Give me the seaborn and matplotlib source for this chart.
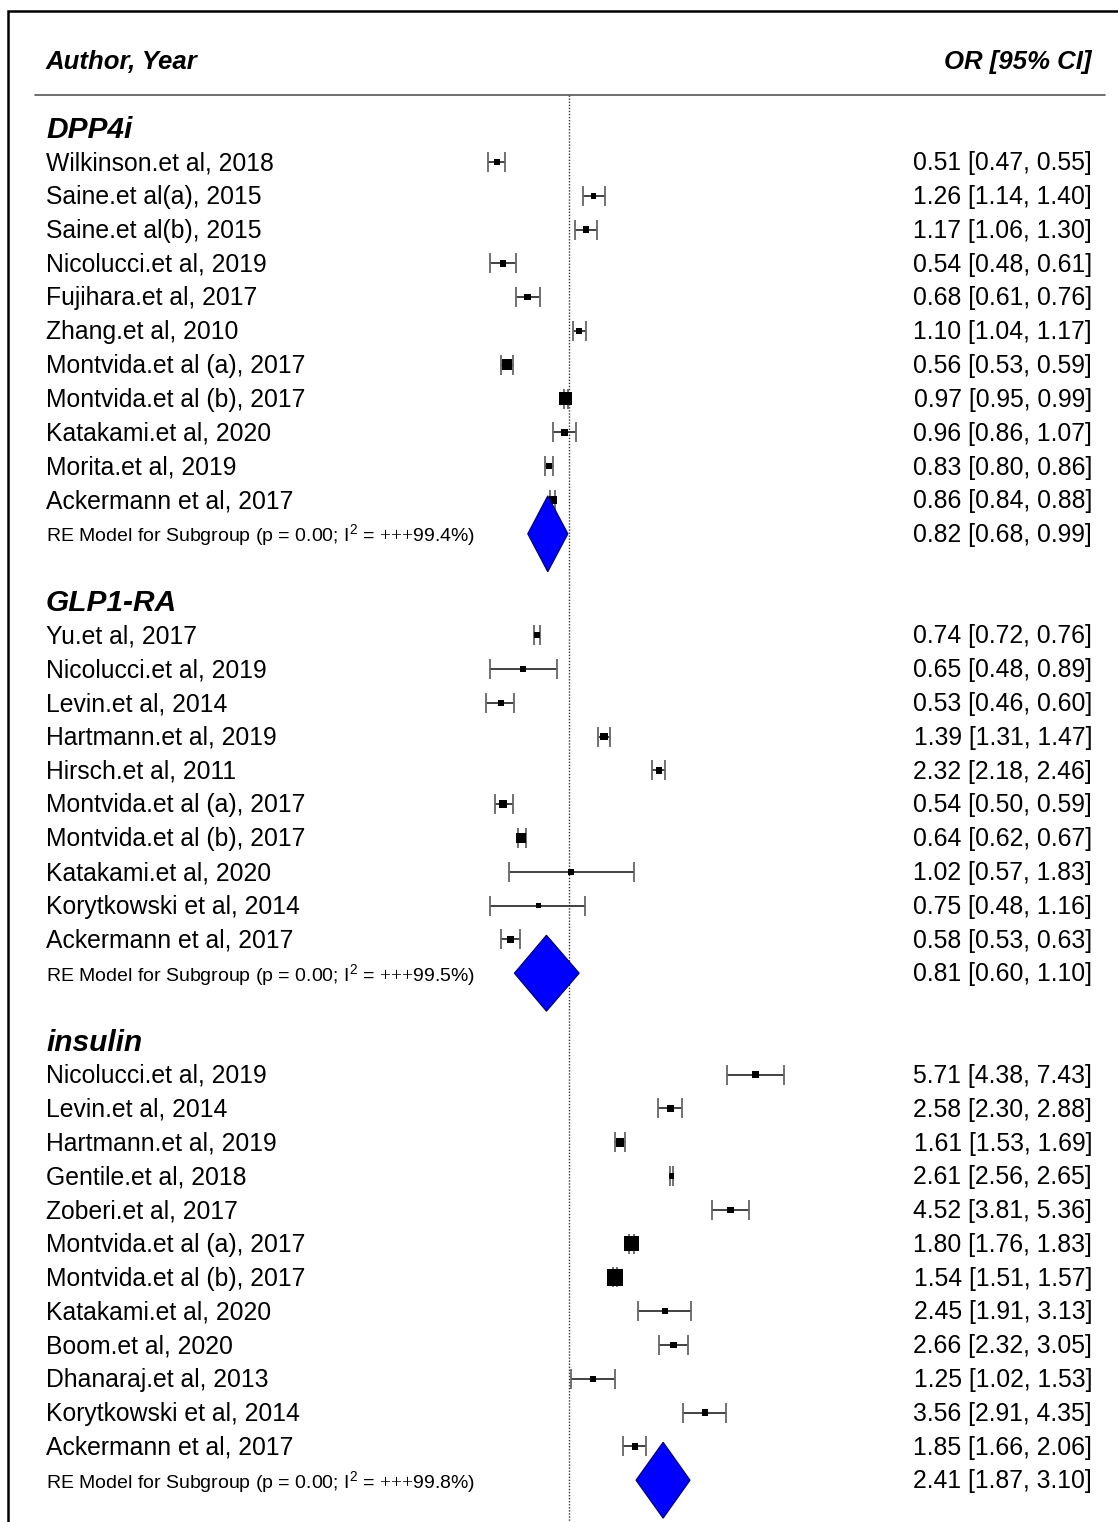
import numpy as np
import pandas as pd
import seaborn as sns
import matplotlib.pyplot as plt
from matplotlib.patches import Rectangle
from matplotlib.transforms import blended_transform_factory

# ---- data ----
groups = ["DPP4i", "GLP1-RA", "insulin"]

dpp_labels = ["Wilkinson.et al, 2018", "Saine.et al(a), 2015", "Saine.et al(b), 2015",
              "Nicolucci.et al, 2019", "Fujihara.et al, 2017", "Zhang.et al, 2010",
              "Montvida.et al (a), 2017", "Montvida.et al (b), 2017", "Katakami.et al, 2020",
              "Morita.et al, 2019", "Ackermann et al, 2017"]
dpp_or = [0.51, 1.26, 1.17, 0.54, 0.68, 1.10, 0.56, 0.97, 0.96, 0.83, 0.86]
dpp_lo = [0.47, 1.14, 1.06, 0.48, 0.61, 1.04, 0.53, 0.95, 0.86, 0.80, 0.84]
dpp_hi = [0.55, 1.40, 1.30, 0.61, 0.76, 1.17, 0.59, 0.99, 1.07, 0.86, 0.88]
dpp_wt = [6, 5, 6, 6, 6, 6, 10, 12, 6, 6, 8]

glp_labels = ["Yu.et al, 2017", "Nicolucci.et al, 2019", "Levin.et al, 2014",
              "Hartmann.et al, 2019", "Hirsch.et al, 2011", "Montvida.et al (a), 2017",
              "Montvida.et al (b), 2017", "Katakami.et al, 2020", "Korytkowski et al, 2014",
              "Ackermann et al, 2017"]
glp_or = [0.74, 0.65, 0.53, 1.39, 2.32, 0.54, 0.64, 1.02, 0.75, 0.58]
glp_lo = [0.72, 0.48, 0.46, 1.31, 2.18, 0.50, 0.62, 0.57, 0.48, 0.53]
glp_hi = [0.76, 0.89, 0.60, 1.47, 2.46, 0.59, 0.67, 1.83, 1.16, 0.63]
glp_wt = [6, 5, 6, 7, 6, 7, 9, 5, 5, 6]

ins_labels = ["Nicolucci.et al, 2019", "Levin.et al, 2014", "Hartmann.et al, 2019",
              "Gentile.et al, 2018", "Zoberi.et al, 2017", "Montvida.et al (a), 2017",
              "Montvida.et al (b), 2017", "Katakami.et al, 2020", "Boom.et al, 2020",
              "Dhanaraj.et al, 2013", "Korytkowski et al, 2014", "Ackermann et al, 2017"]
ins_or = [5.71, 2.58, 1.61, 2.61, 4.52, 1.80, 1.54, 2.45, 2.66, 1.25, 3.56, 1.85]
ins_lo = [4.38, 2.30, 1.53, 2.56, 3.81, 1.76, 1.51, 1.91, 2.32, 1.02, 2.91, 1.66]
ins_hi = [7.43, 2.88, 1.69, 2.65, 5.36, 1.83, 1.57, 3.13, 3.05, 1.53, 4.35, 2.06]
ins_wt = [6, 7, 8, 5, 6, 14, 15, 6, 6, 6, 6, 6]

re_or = [0.82, 0.81, 2.41]
re_lo = [0.68, 0.60, 1.87]
re_hi = [0.99, 1.10, 3.10]
re_i2 = ["99.4", "99.5", "99.8"]

# ---- build long table with row positions ----
study_sets = [(dpp_labels, dpp_or, dpp_lo, dpp_hi, dpp_wt),
              (glp_labels, glp_or, glp_lo, glp_hi, glp_wt),
              (ins_labels, ins_or, ins_lo, ins_hi, ins_wt)]
rows = []
head_rows = []
re_rows = []
r = 0
for g, (lab, o, lo, hi, wt) in zip(groups, study_sets):
    head_rows.append(r - 1)
    for i in range(len(lab)):
        rows.append(dict(group=g, label=lab[i], OR=o[i], lo=lo[i], hi=hi[i], wt=wt[i], row=r))
        r += 1
    re_rows.append(r)
    r += 3
df = pd.DataFrame(rows)

sns.set_style("white")
plt.rcParams["font.family"] = ["Liberation Sans", "DejaVu Sans"]
plt.rcParams["text.color"] = "black"
plt.rcParams["mathtext.fontset"] = "custom"
plt.rcParams["mathtext.rm"] = "Liberation Serif"
plt.rcParams["mathtext.sf"] = "Liberation Sans"

W, H = 1118, 1522
x0, k = 569, 107.0       # pixel of OR=1, pixels per ln unit
y0, dy = 162, 33.8       # pixel of first study row, pixels per row

fig = plt.figure(figsize=(W / 100, H / 100), dpi=100)
ax = fig.add_axes([0, 0, 1, 1])
ax.set_xscale("log")
ax.set_xlim(np.exp(-x0 / k), np.exp((W - x0) / k))
ax.set_ylim((H - y0) / dy, -y0 / dy)
ax.axis("off")
bt = blended_transform_factory(ax.transAxes, ax.transData)

# reference line and header rule
ax.vlines(1, -1.98, 45, colors="#333333", linestyles=(0, (1, 1.2)), lw=1.0)
ax.plot([35 / W, 1105 / W], [-1.98, -1.98], color="#555555", lw=1.2, transform=bt)

# CI whiskers
ax.hlines(df["row"], df["lo"], df["hi"], colors="#333333", lw=1.3)
cap = 10 / dy
ax.vlines(df["lo"], df["row"] - cap, df["row"] + cap, colors="#666666", lw=1.3)
ax.vlines(df["hi"], df["row"] - cap, df["row"] + cap, colors="#666666", lw=1.3)

# weighted squares
sizes = {v: (v * 0.78) ** 2 for v in df["wt"].unique()}
sns.scatterplot(data=df, x="OR", y="row", size="wt", sizes=sizes, marker="s",
                color="black", edgecolor="black", linewidth=0, legend=False, ax=ax, zorder=3)

# summary diamonds
hh = 38 / dy
for i in range(3):
    yy = re_rows[i]
    ax.fill([re_lo[i], re_or[i], re_hi[i], re_or[i]], [yy, yy - hh, yy, yy + hh],
            facecolor="#0000FF", edgecolor="#000066", lw=0.8, zorder=4)

# text columns
fs = 17.8
xl, xr = 46 / W, 1092 / W
va = "center_baseline"
up = -1.2 / dy
ax.text(xl, -3 + up, "Author, Year", transform=bt, fontsize=18.5, fontweight="bold",
        fontstyle="italic", va=va, ha="left")
ax.text(xr, -3 + up, "OR [95% CI]", transform=bt, fontsize=18.5, fontweight="bold",
        fontstyle="italic", va=va, ha="right")
for g, hr in zip(groups, head_rows):
    ax.text(xl, hr + up, g, transform=bt, fontsize=21.5, fontweight="bold",
            fontstyle="italic", va=va, ha="left")
for _, d in df.iterrows():
    ax.text(xl, d["row"] + up, d["label"], transform=bt, fontsize=fs, va=va, ha="left")
    ax.text(xr, d["row"] + up, f"{d['OR']:.2f} [{d['lo']:.2f}, {d['hi']:.2f}]", transform=bt,
            fontsize=fs, va=va, ha="right")
for i in range(3):
    yy = re_rows[i]
    ax.text(xl, yy + up,
            r"RE Model for Subgroup (p = 0.00; I$^{\mathsf{2}}$ = ${+}{+}{+}$" + f"{re_i2[i]}%)",
            transform=bt, fontsize=14, va=va, ha="left")
    ax.text(xr, yy + up, f"{re_or[i]:.2f} [{re_lo[i]:.2f}, {re_hi[i]:.2f}]", transform=bt,
            fontsize=fs, va=va, ha="right")

# outer frame (cut at right and bottom)
fig.add_artist(Rectangle((7.5 / W, -0.05), 1.2, 1.05 - 10.5 / H, fill=False,
                         lw=1.8, ec="black", transform=fig.transFigure, clip_on=False))

fig.savefig("out.png", dpi=100)
